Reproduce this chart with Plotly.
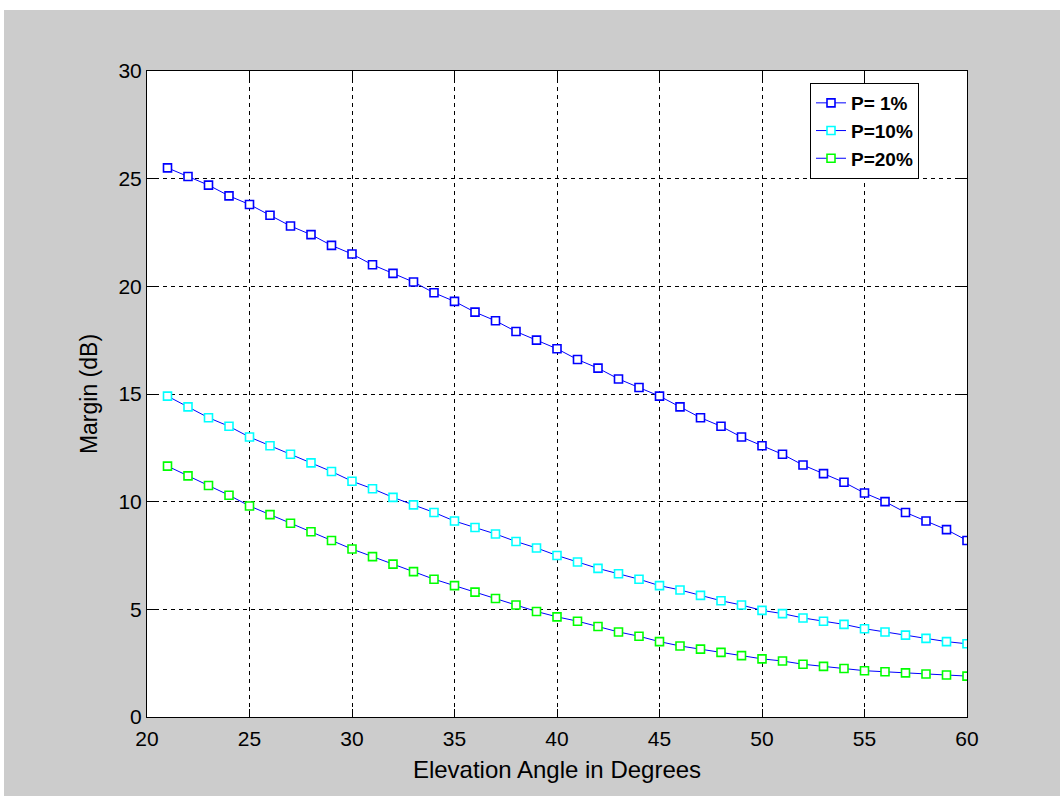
import plotly.graph_objects as go

# Elevation angle (degrees)
elevation = list(range(21, 61))

# Required margin (dB) for each exceedance percentage
margin_p1 = [25.5, 25.1, 24.7, 24.2, 23.8, 23.3, 22.8, 22.4, 21.9, 21.5,
             21.0, 20.6, 20.2, 19.7, 19.3, 18.8, 18.4, 17.9, 17.5, 17.1,
             16.6, 16.2, 15.7, 15.3, 14.9, 14.4, 13.9, 13.5, 13.0, 12.6,
             12.2, 11.7, 11.3, 10.9, 10.4, 10.0, 9.5, 9.1, 8.7, 8.2]
margin_p10 = [14.9, 14.4, 13.9, 13.5, 13.0, 12.6, 12.2, 11.8, 11.4, 10.95,
              10.6, 10.2, 9.85, 9.5, 9.1, 8.8, 8.5, 8.15, 7.85, 7.5,
              7.2, 6.9, 6.65, 6.4, 6.1, 5.9, 5.65, 5.4, 5.2, 4.95,
              4.8, 4.6, 4.45, 4.3, 4.1, 3.95, 3.8, 3.65, 3.5, 3.4]
margin_p20 = [11.65, 11.2, 10.75, 10.3, 9.8, 9.4, 9.0, 8.6, 8.2, 7.8,
              7.45, 7.1, 6.75, 6.4, 6.1, 5.8, 5.5, 5.2, 4.9, 4.65,
              4.45, 4.2, 3.95, 3.75, 3.5, 3.3, 3.15, 3.0, 2.85, 2.7,
              2.6, 2.45, 2.35, 2.25, 2.15, 2.1, 2.05, 2.0, 1.95, 1.9]

series_names = ["P= 1%", "P=10%", "P=20%"]
series_values = [margin_p1, margin_p10, margin_p20]
marker_edges = ["#0000FF", "#00FFFF", "#00FF00"]

x_ticks = [20, 25, 30, 35, 40, 45, 50, 55, 60]
y_ticks = [0, 5, 10, 15, 20, 25, 30]

FONT = "Liberation Sans, Arial, sans-serif"

fig = go.Figure()
for name, vals, edge in zip(series_names, series_values, marker_edges):
    fig.add_trace(go.Scatter(
        x=elevation, y=vals, name=name, mode="lines+markers",
        line=dict(color="#0000FF", width=1),
        marker=dict(symbol="square", size=8, color="white",
                    line=dict(color=edge, width=1.6)),
    ))

# plot-area geometry in pixels (used to place page-edge strips)
L, R, T, B = 147, 93, 71, 79
W, H = 1060, 796
pw, ph = W - L - R, H - T - B

fig.update_layout(
    width=W, height=H,
    margin=dict(l=L, r=R, t=T, b=B),
    paper_bgcolor="#CCCCCC",
    plot_bgcolor="white",
    font=dict(family=FONT, size=20, color="black"),
    showlegend=True,
    legend=dict(
        x=(810 - L) / pw, y=1 - (83 - T) / ph, xanchor="left", yanchor="top",
        bgcolor="white", bordercolor="black", borderwidth=1,
        font=dict(family=FONT, size=19, color="black", weight="bold"),
        itemwidth=30, tracegroupgap=0,
    ),
    shapes=[
        # white strip along the top edge of the page
        dict(type="rect", xref="paper", yref="paper",
             x0=-L / pw, x1=1 + R / pw, y0=1 + (T - 10) / ph, y1=1 + T / ph,
             fillcolor="white", line=dict(width=0), layer="below"),
        # white strip along the left edge of the page
        dict(type="rect", xref="paper", yref="paper",
             x0=-L / pw, x1=-(L - 4) / pw, y0=-B / ph, y1=1 + T / ph,
             fillcolor="white", line=dict(width=0), layer="below"),
    ],
)

axis_common = dict(
    showline=True, linecolor="black", linewidth=1, mirror="ticks",
    ticks="inside", ticklen=8, tickcolor="black", tickwidth=1,
    showgrid=True, gridcolor="black", gridwidth=1, griddash="4px,4px",
    zeroline=False, tickfont=dict(family=FONT, size=21, color="black"),
)

fig.update_xaxes(
    range=[20, 60], tickvals=x_ticks, ticktext=[str(t) for t in x_ticks],
    ticklabelstandoff=3,
    title=dict(text="Elevation Angle in Degrees", standoff=11,
               font=dict(family=FONT, size=24)),
    **axis_common,
)
fig.update_yaxes(
    range=[0, 30], tickvals=y_ticks, ticktext=[str(t) for t in y_ticks],
    title=dict(text="Margin (dB)", standoff=14,
               font=dict(family=FONT, size=23)),
    **axis_common,
)

fig.write_html("out.html")
